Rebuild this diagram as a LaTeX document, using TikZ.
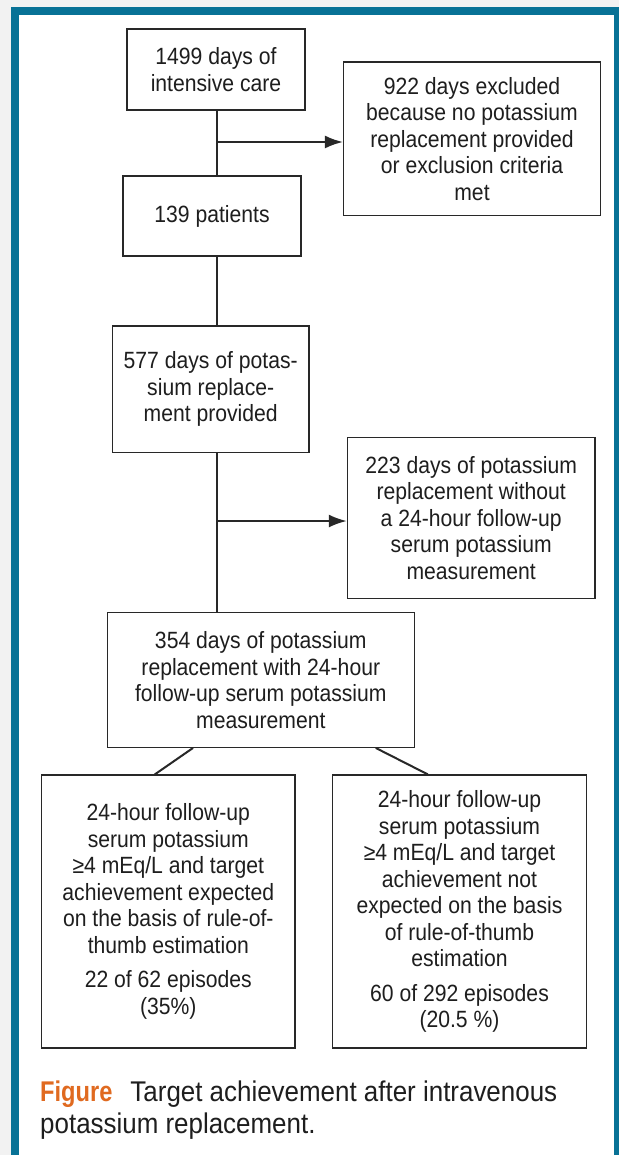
\documentclass[tikz,border=0pt]{standalone}
\usepackage{fontspec}
\setmainfont{Liberation Sans}[FakeStretch=0.9]
\newfontfamily\capfont{Liberation Sans}[FakeStretch=0.91]
\newfontfamily\capboldfont{Liberation Sans}[FakeStretch=0.83]
\usetikzlibrary{arrows.meta,calc}
\definecolor{frameteal}{RGB}{8,114,150}
\definecolor{figorange}{RGB}{224,106,32}
\definecolor{textgray}{RGB}{30,30,30}
\definecolor{boxline}{RGB}{40,40,40}
\definecolor{bggray}{RGB}{242,242,242}
\newcommand\bxfont{\fontsize{23.5}{26.5}\selectfont}
\newcommand\cpfont{\capfont\fontsize{28.5}{32}\selectfont}
\begin{document}
\begin{tikzpicture}[x=1pt,y=-1pt,
  box/.style={draw=boxline, line width=1.2pt, inner sep=0pt, text=textgray, align=center, font=\bxfont},
  conn/.style={draw=boxline, line width=2pt},
  arr/.style={conn, -{Latex[length=18pt,width=13pt]}},
  captxt/.style={anchor=base west, inner sep=0pt, text=textgray, font=\cpfont}]
\fill[bggray] (0,0) rectangle (619,1155);
\fill[frameteal] (11,7) rectangle (619,1155);
\fill[white] (19,15) rectangle (614,1155);
\useasboundingbox (0,0) rectangle (619,1155);

\node[box, minimum width=178pt, minimum height=81pt] (b1) at (216,69.5) {1499 days of\\intensive care};
\node[box, minimum width=257pt, minimum height=153.5pt] (b2) at (472,138.7) {922 days excluded\\because no potassium\\replacement provided\\or exclusion criteria\\met};
\node[box, minimum width=178pt, minimum height=80pt] (b3) at (212,216) {139 patients};
\node[box, minimum width=196.7pt, minimum height=126.7pt] (b4) at (210.7,389.3) {577 days of potas-\\sium replace-\\ment provided};
\node[box, minimum width=247.7pt, minimum height=161pt] (b5) at (471.2,517.8) {223 days of potassium\\replacement without\\a 24-hour follow-up\\serum potassium\\measurement};
\node[box, minimum width=307pt, minimum height=134.7pt] (b6) at (260.8,680) {354 days of potassium\\replacement with 24-hour\\follow-up serum potassium\\measurement};
\node[box, minimum width=253.3pt, minimum height=273pt] (b7) at (168.3,911.5) {24-hour follow-up\\serum potassium\\≥4 mEq/L and target\\achievement expected\\on the basis of rule-of-\\thumb estimation\\[8pt]22 of 62 episodes\\(35\%)};
\node[box, minimum width=254.3pt, minimum height=273pt] (b8) at (459.5,911.5) {24-hour follow-up\\serum potassium\\≥4 mEq/L and target\\achievement not\\expected on the basis\\of rule-of-thumb\\estimation\\[8pt]60 of 292 episodes\\(20.5 \%)};

\coordinate (tx) at (217,0);
\coordinate (j1) at (217,142);
\coordinate (j2) at (217,521);
\draw[conn] (b1.south -| tx) -- (b3.north -| tx);
\draw[conn] (b3.south -| tx) -- (b4.north -| tx);
\draw[conn] (b4.south -| tx) -- (b6.north -| tx);
\draw[arr] (j1) -- (j1 -| b2.west);
\draw[arr] (j2) -- (j2 -| b5.west);
\draw[conn] ($(b6.south west)!0.28!(b6.south east)$) -- ($(b7.north west)!0.447!(b7.north east)$);
\draw[conn] ($(b6.south west)!0.873!(b6.south east)$) -- ($(b8.north west)!0.376!(b8.north east)$);

\node[captxt] (cap1) at (40,1101.7) {{\capboldfont\bfseries\color{figorange}Figure}\hspace{18pt}Target achievement after intravenous};
\node[captxt] (cap2) at (40,1133) {potassium replacement.};
\end{tikzpicture}
\end{document}
